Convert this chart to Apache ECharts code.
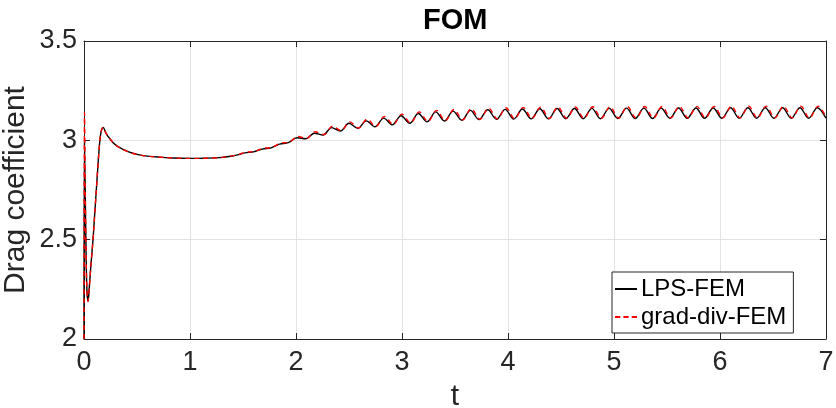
<!DOCTYPE html>
<html>
<head>
<meta charset="utf-8">
<script src="https://cdn.jsdelivr.net/npm/echarts@6/dist/echarts.min.js"></script>
<style>
  html, body { margin: 0; padding: 0; background: #fff; }
  #chart { width: 836px; height: 408px; }
</style>
</head>
<body>
<div id="chart"></div>
<script>
// Drag coefficient history, full order model
const chartTitle = 'FOM';
const seriesNames = ['LPS-FEM', 'grad-div-FEM'];
const xTicks = [0, 1, 2, 3, 4, 5, 6, 7];
const yTicks = [2, 2.5, 3, 3.5];

// LPS-FEM: time and drag coefficient
const tLps = [
  0, 0.004, 0.012, 0.02, 0.028, 0.038, 0.05, 0.065, 0.085, 0.1, 0.12, 0.135, 0.148, 0.16, 0.172, 0.182,
  0.2, 0.22, 0.242, 0.28, 0.32, 0.415, 0.51, 0.62, 0.72, 0.85, 1.0, 1.15, 1.28, 1.4, 1.46,
  1.518, 1.600, 1.682, 1.764, 1.845, 1.927, 2.009, 2.091, 2.173, 2.255, 2.336, 2.418, 2.500, 2.582,
  2.663, 2.745, 2.827, 2.909, 2.991, 3.073, 3.154, 3.236, 3.318, 3.400, 3.482, 3.564, 3.645, 3.727,
  3.809, 3.891, 3.973, 4.054, 4.136, 4.218, 4.300, 4.382, 4.463, 4.545, 4.627, 4.709, 4.791, 4.872,
  4.954, 5.036, 5.118, 5.200, 5.282, 5.364, 5.445, 5.527, 5.609, 5.691, 5.773, 5.854, 5.936, 6.018,
  6.100, 6.181, 6.263, 6.345, 6.427, 6.509, 6.591, 6.672, 6.754, 6.836, 6.918, 7.000
];
const cdLps = [
  2.0, 3.0, 2.72, 2.42, 2.24, 2.19, 2.26, 2.37, 2.5, 2.62, 2.78, 2.9, 2.99, 3.04, 3.06, 3.065,
  3.045, 3.025, 3.01, 2.985, 2.968, 2.943, 2.928, 2.919, 2.915, 2.911, 2.909, 2.910, 2.913, 2.921, 2.928,
  2.937, 2.942, 2.956, 2.962, 2.981, 2.988, 3.013, 3.008, 3.036, 3.027, 3.064, 3.047, 3.086, 3.060,
  3.098, 3.068, 3.112, 3.078, 3.124, 3.086, 3.135, 3.093, 3.143, 3.097, 3.147, 3.101, 3.151, 3.104,
  3.154, 3.106, 3.156, 3.107, 3.158, 3.108, 3.159, 3.108, 3.160, 3.109, 3.160, 3.109, 3.161, 3.109,
  3.161, 3.110, 3.162, 3.110, 3.162, 3.110, 3.162, 3.111, 3.163, 3.111, 3.163, 3.111, 3.163, 3.111,
  3.164, 3.111, 3.164, 3.111, 3.164, 3.111, 3.164, 3.111, 3.164, 3.111, 3.164, 3.111
];

// grad-div-FEM: time and drag coefficient
const tGradDiv = [
  0, 0.005, 0.012, 0.02, 0.028, 0.038, 0.05, 0.065, 0.085, 0.1, 0.12, 0.135, 0.148, 0.16, 0.172, 0.182,
  0.2, 0.22, 0.242, 0.28, 0.32, 0.415, 0.51, 0.62, 0.72, 0.85, 1.0, 1.15, 1.28, 1.4, 1.46,
  1.526, 1.608, 1.690, 1.772, 1.853, 1.935, 2.017, 2.099, 2.181, 2.263, 2.344, 2.426, 2.508, 2.590,
  2.671, 2.753, 2.835, 2.917, 2.999, 3.081, 3.162, 3.244, 3.326, 3.408, 3.490, 3.572, 3.653, 3.735,
  3.817, 3.899, 3.981, 4.062, 4.144, 4.226, 4.308, 4.390, 4.471, 4.553, 4.635, 4.717, 4.799, 4.880,
  4.962, 5.044, 5.126, 5.208, 5.290, 5.372, 5.453, 5.535, 5.617, 5.699, 5.781, 5.862, 5.944, 6.026,
  6.108, 6.189, 6.271, 6.353, 6.435, 6.517, 6.599, 6.680, 6.762, 6.844, 6.926, 7.000
];
const cdGradDiv = [
  2.0, 3.14, 2.75, 2.43, 2.24, 2.19, 2.26, 2.37, 2.5, 2.62, 2.78, 2.9, 2.99, 3.04, 3.06, 3.065,
  3.045, 3.025, 3.01, 2.985, 2.968, 2.943, 2.928, 2.919, 2.915, 2.911, 2.909, 2.910, 2.913, 2.922, 2.929,
  2.940, 2.944, 2.960, 2.964, 2.986, 2.990, 3.019, 3.010, 3.043, 3.029, 3.071, 3.049, 3.093, 3.062,
  3.106, 3.070, 3.120, 3.080, 3.132, 3.088, 3.143, 3.095, 3.151, 3.099, 3.155, 3.103, 3.159, 3.106,
  3.162, 3.108, 3.164, 3.109, 3.166, 3.110, 3.167, 3.110, 3.168, 3.111, 3.168, 3.111, 3.169, 3.111,
  3.169, 3.112, 3.170, 3.112, 3.170, 3.112, 3.170, 3.113, 3.171, 3.113, 3.171, 3.113, 3.171, 3.113,
  3.172, 3.113, 3.172, 3.113, 3.172, 3.113, 3.172, 3.113, 3.172, 3.113, 3.172, 3.116
];

const pairs = (xs, ys) => xs.map((x, i) => [x, ys[i]]);

const axisColor = '#262626';
const gridColor = '#e3e3e3';
const fontFamily = '"Liberation Sans", Arial, Helvetica, sans-serif';

// legend samples: a solid bar and a row of dashes
const solidIcon = 'path://M0,0H22V2H0Z';
const dashedIcon = 'path://M0,0H5V2H0Z M8,0H13V2H8Z M16,0H21V2H16Z';

const chart = echarts.init(document.getElementById('chart'), null, { renderer: 'canvas' });

const frameAxis = {
  axisLine: { show: true, onZero: false, lineStyle: { color: axisColor, width: 1 } },
  axisTick: { show: true, inside: true, length: 6, lineStyle: { color: axisColor } },
  splitLine: { show: false },
  axisLabel: { show: false }
};

chart.setOption({
  animation: false,
  backgroundColor: '#ffffff',
  graphic: [{
    type: 'text',
    left: 455 - 32,
    top: 6,
    style: {
      text: chartTitle,
      font: 'bold 29px ' + fontFamily,
      fill: '#000000'
    }
  }],
  grid: { left: 84, right: 10, top: 41, bottom: 69, containLabel: false, outerBoundsMode: 'none' },
  legend: {
    orient: 'vertical',
    left: 612,
    top: 272,
    padding: [5, 7, 4, 3],
    itemGap: 4,
    itemWidth: 22,
    itemHeight: 2,
    symbolKeepAspect: false,
    backgroundColor: '#ffffff',
    borderColor: axisColor,
    borderWidth: 1,
    borderRadius: 0,
    textStyle: { fontSize: 24, fontFamily: fontFamily, color: '#000000', lineHeight: 24, padding: [0, 0, 0, -1] },
    data: [
      { name: seriesNames[0], icon: solidIcon, itemStyle: { color: '#000000' } },
      { name: seriesNames[1], icon: dashedIcon, itemStyle: { color: '#ff0000' } }
    ]
  },
  xAxis: [{
    type: 'value',
    min: xTicks[0],
    max: xTicks[xTicks.length - 1],
    interval: 1,
    name: 't',
    nameLocation: 'middle',
    nameGap: 43,
    nameMoveOverlap: false,
    nameTextStyle: { fontSize: 30, fontFamily: fontFamily, color: axisColor },
    axisLine: { show: true, onZero: false, lineStyle: { color: axisColor, width: 1 } },
    axisTick: { show: true, inside: true, length: 6, lineStyle: { color: axisColor } },
    axisLabel: { fontSize: 27, fontFamily: fontFamily, color: axisColor, margin: 10 },
    splitLine: { show: true, lineStyle: { color: gridColor, width: 1 } }
  }, Object.assign({
    type: 'value', position: 'top',
    min: xTicks[0], max: xTicks[xTicks.length - 1], interval: 1
  }, frameAxis)],
  yAxis: [{
    type: 'value',
    min: yTicks[0],
    max: yTicks[yTicks.length - 1],
    interval: 0.5,
    name: 'Drag coefficient',
    nameLocation: 'middle',
    nameGap: 53,
    nameMoveOverlap: false,
    nameTextStyle: { fontSize: 30, fontFamily: fontFamily, color: axisColor },
    axisLine: { show: true, onZero: false, lineStyle: { color: axisColor, width: 1 } },
    axisTick: { show: true, inside: true, length: 6, lineStyle: { color: axisColor } },
    axisLabel: { fontSize: 27, fontFamily: fontFamily, color: axisColor, margin: 7 },
    splitLine: { show: true, lineStyle: { color: gridColor, width: 1 } }
  }, Object.assign({
    type: 'value', position: 'right',
    min: yTicks[0], max: yTicks[yTicks.length - 1], interval: 0.5
  }, frameAxis)],
  series: [{
    name: seriesNames[0],
    type: 'line',
    data: pairs(tLps, cdLps),
    showSymbol: false,
    symbol: 'none',
    smooth: 0.35,
    clip: true,
    lineStyle: { color: '#000000', width: 1.4 },
    itemStyle: { color: '#000000' },
    z: 3
  }, {
    name: seriesNames[1],
    type: 'line',
    data: pairs(tGradDiv, cdGradDiv),
    showSymbol: false,
    symbol: 'none',
    smooth: 0.35,
    clip: true,
    lineStyle: { color: '#ff0000', width: 1.4, type: [5, 4] },
    itemStyle: { color: '#ff0000' },
    z: 4
  }]
});
</script>
</body>
</html>
